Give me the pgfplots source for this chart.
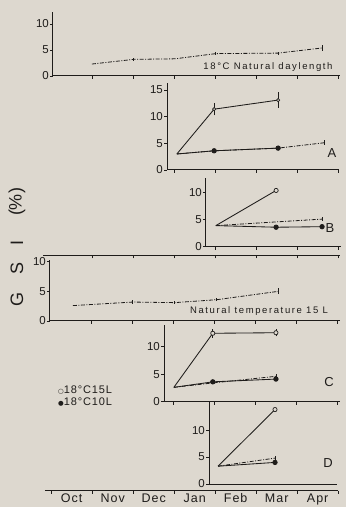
\documentclass[border=0pt]{standalone}
\usepackage{pgfplots}
\pgfplotsset{compat=1.18}
\usepackage{fontspec}
\setmainfont{Liberation Sans}
\newfontfamily\symfont{DejaVu Sans}
\newfontfamily\spaced[LetterSpace=17]{Liberation Sans}
\newfontfamily\spacedb[LetterSpace=8]{Liberation Sans}
\definecolor{bg}{RGB}{221,216,207}
\definecolor{ink}{RGB}{30,28,26}
\pgfplotsset{
  panel/.style={
    scale only axis, anchor=south west, clip=false,
    axis lines=left, axis line style={-, ink, line width=1pt},
    tick align=outside, major tick length=3pt,
    every tick/.style={ink, line width=0.8pt},
    xtick={1,...,7}, xticklabels={},
    ytick={0,5,10}, ymin=0,
    yticklabel style={font=\fontsize{11.5}{13}\selectfont, text=ink, inner sep=1pt},
    /pgf/number format/assume math mode=true,
  },
  ctrl/.style={ink, line width=0.8pt, dash pattern=on 4pt off 1.5pt on 1pt off 1.5pt, mark=none,
    /pgfplots/error bars/y dir=both, /pgfplots/error bars/y explicit, /pgfplots/error bars/error mark=none,
    /pgfplots/error bars/error bar style={solid, line width=0.8pt}},
  open/.style={ink, line width=0.85pt, solid, mark=*, mark size=2.1pt,
    mark options={solid, fill=bg, draw=ink, line width=0.7pt},
    /pgfplots/error bars/y dir=both, /pgfplots/error bars/y explicit, /pgfplots/error bars/error mark=-,
    /pgfplots/error bars/error mark options={mark size=1.5pt, line width=0.7pt, ink},
    /pgfplots/error bars/error bar style={solid, line width=0.8pt}},
  filled/.style={ink, line width=0.85pt, solid, mark=*, mark size=2.2pt,
    mark options={solid, fill=ink, draw=ink}},
  sep/.style={scale only axis, anchor=south west, height=2pt, ymin=0, ymax=1,
    axis x line=bottom, axis y line=none, axis line style={-, ink, line width=1pt},
    tick align=outside, major tick length=3pt,
    every tick/.style={ink, line width=0.8pt}, xticklabels={}},
}
\begin{document}
\begin{tikzpicture}[x=1pt,y=1pt]
\fill[bg] (0,0) rectangle (346,507);

% Panel 1: 18C natural daylength
\begin{axis}[panel, at={(53pt,431pt)}, width=287pt, height=64pt, xmin=0.05, xmax=7.05, ymax=12.3]
\addplot[ctrl] coordinates {(1.0,2.3) (2.02,3.2) +- (0,0.3) (3.02,3.3) (4.02,4.3) +- (0,0.3) (5.54,4.4) +- (0,0.3) (6.63,5.4) +- (0,0.6)};
\end{axis}
\node[font=\fontsize{9.5}{11}\selectfont\spaced, text=ink] at (268,440) {18°C Natural daylength};

% Panel A
\begin{axis}[panel, at={(167pt,337pt)}, width=171.8pt, height=87pt, xmin=2.83, xmax=7.02, ymax=16.3, ytick={0,5,10,15}]
\addplot[ctrl] coordinates {(3.07,3.0) (3.98,3.6) (5.54,4.1) (6.66,5.1) +- (0,0.5)};
\addplot[open, mark indices={2,3}, mark size=1.6pt] coordinates {(3.07,3.0) (3.98,11.4) +- (0,0.9) (5.54,13.1) +- (0,1.2)};
\addplot[filled, mark indices={2,3}] coordinates {(3.07,3.0) (3.98,3.6) (5.54,4.1)};
\end{axis}
\node[font=\fontsize{13}{15}\selectfont, text=ink] at (332,354) {A};

% Panel B
\begin{axis}[panel, at={(206pt,260.3pt)}, width=134.9pt, height=68.7pt, xmin=3.78, xmax=7.07, ymax=12.7]
\addplot[ctrl] coordinates {(4.02,3.9) (6.61,5.1) +- (0,0.4)};
\addplot[open, mark indices={2}] coordinates {(4.02,3.9) (5.49,10.4)};
\addplot[filled, mark indices={2,3}] coordinates {(4.02,3.9) (5.49,3.6) (6.61,3.7)};
\end{axis}
\node[font=\fontsize{13}{15}\selectfont, text=ink] at (330,279) {B};

% divider line
\begin{axis}[sep, at={(43pt,251.5pt)}, width=297.25pt, xmin=-0.2, xmax=7.05, xtick={1,...,7}]
\end{axis}

% Panel natural temperature
\begin{axis}[panel, at={(50pt,186pt)}, width=289.9pt, height=61pt, xmin=-0.02, xmax=7.05, ymax=10.3]
\addplot[ctrl] coordinates {(0.54,2.6) (2.0,3.2) +- (0,0.3) (3.02,3.1) +- (0,0.3) (4.05,3.6) +- (0,0.3) (5.54,5.0) +- (0,0.5)};
\end{axis}
\node[font=\fontsize{9.5}{11}\selectfont\spaced, text=ink] at (259,196) {Natural temperature 15 L};

% Panel C
\begin{axis}[panel, at={(164pt,105.3pt)}, width=175.9pt, height=76.7pt, xmin=2.76, xmax=7.05, ymax=13.9]
\addplot[ctrl] coordinates {(3.0,2.6) (3.95,3.4) (5.49,4.6) +- (0,0.5)};
\addplot[open, mark indices={2,3}] coordinates {(3.0,2.6) (3.95,12.4) +- (0,0.5) (5.49,12.5) +- (0,0.4)};
\addplot[filled, mark indices={2,3}] coordinates {(3.0,2.6) (3.95,3.6) (5.49,4.1)};
\end{axis}
\node[font=\fontsize{13}{15}\selectfont, text=ink] at (329,125) {C};

% legend
\node[anchor=west, font=\fontsize{11}{13}\selectfont\spacedb, text=ink, inner sep=0pt] at (58,117) {{\symfont\fontsize{6.5}{6.5}\selectfont ○}18°C15L};
\node[anchor=west, font=\fontsize{11}{13}\selectfont\spacedb, text=ink, inner sep=0pt] at (58,105) {{\symfont\fontsize{6.5}{6.5}\selectfont ●}18°C10L};

% Panel D
\begin{axis}[panel, at={(209pt,23pt)}, width=128.3pt, height=82pt, xmin=3.85, xmax=6.98, ymax=15.2, xtick=\empty]
\addplot[ctrl] coordinates {(4.07,3.3) (5.46,4.8) +- (0,0.4)};
\addplot[open, mark indices={2}] coordinates {(4.07,3.3) (5.46,13.8)};
\addplot[filled, mark indices={2}] coordinates {(4.07,3.3) (5.46,4.0)};
\end{axis}
\node[font=\fontsize{13}{15}\selectfont, text=ink] at (328,44) {D};

% bottom month axis
\begin{axis}[sep, at={(45pt,16.3pt)}, width=293.15pt, xmin=-0.15, xmax=7.0, xtick={0,...,7},
  extra x ticks={0.5,1.5,2.5,3.5,4.5,5.5,6.5},
  extra x tick labels={Oct,Nov,Dec,Jan,Feb,Mar,Apr},
  extra x tick style={major tick length=0pt, tick label style={font=\fontsize{12.5}{14}\selectfont\spacedb, text=ink, inner sep=1pt, yshift=-2pt}}]
\end{axis}

% y label
\begin{scope}[font=\fontsize{18}{20}\selectfont, text=ink]
\node[rotate=90] at (17,207) {G};
\node[rotate=90] at (17,239) {S};
\node[rotate=90] at (17,264) {I};
\node[rotate=90] at (17,305) {(\%)};
\end{scope}
\end{tikzpicture}
\end{document}
